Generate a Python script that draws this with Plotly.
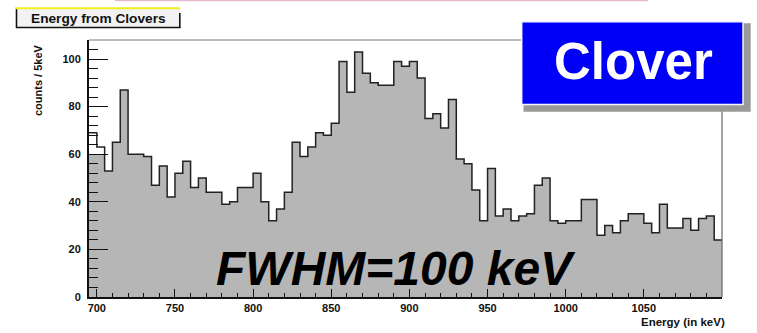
import plotly.graph_objects as go

# ---- data (5 keV bins starting at 695 keV) ----
bin_start = 695
bin_width = 5
counts = [69, 63, 53, 65, 87, 60, 60, 59, 47, 55,
          42, 52, 57, 46, 50, 44, 44, 39, 40, 46,
          46, 52, 40, 32, 37, 44, 65, 59, 63, 69,
          68, 73, 99, 86, 103, 94, 90, 89, 89, 99,
          97, 99, 92, 75, 77, 71, 83, 58, 56, 45,
          32, 54, 34, 37, 32, 34, 35, 47, 50, 32,
          31, 32, 32, 41, 41, 26, 30, 27, 32, 35,
          35, 31, 27, 39, 29, 29, 33, 28, 33, 34, 24]
# the grey fill of the first two bins stops lower than their outline in the picture
fill_first_bins = [60, 60]
x_range = [695, 1100]
y_range = [0, 108]
x_tick_vals = [700, 750, 800, 850, 900, 950, 1000, 1050]
y_tick_vals = [0, 20, 40, 60, 80, 100]
title_text = "Energy from Clovers"
y_title = "counts / 5keV"
x_title = "Energy (in keV)"
box_text = "Clover"
note_text = "FWHM=100 keV"

edges = [bin_start + i * bin_width for i in range(len(counts) + 1)]
step_y = counts + [counts[-1]]
fill_vals = fill_first_bins + counts[len(fill_first_bins):]
fill_y = fill_vals + [fill_vals[-1]]

W, H = 757, 333
L, R, T, B = 89, 35, 40, 36
PW, PH = W - L - R, H - T - B


def px(x):
    return (x - L) / PW


def py(y):
    return (H - B - y) / PH


fig = go.Figure()
fig.add_trace(go.Scatter(x=edges, y=fill_y, mode="lines", line=dict(width=0, shape="hv"),
                         fill="tozeroy", fillcolor="#b6b6b6", hoverinfo="skip", showlegend=False))
fig.add_trace(go.Scatter(x=edges, y=step_y, mode="lines",
                         line=dict(color="#222222", width=1.5, shape="hv"),
                         hoverinfo="skip", showlegend=False))

tickfont = dict(family="Liberation Sans", size=11, color="#111111", weight="bold")
fig.update_xaxes(range=x_range, showline=True, linecolor="#111111", linewidth=2,
                 ticks="inside", ticklen=8, tickwidth=1.2, tickcolor="#111111",
                 tickmode="array", tickvals=x_tick_vals, showgrid=False, zeroline=False, tickfont=tickfont,
                 minor=dict(ticks="inside", dtick=10, tick0=700, ticklen=4, tickcolor="#111111", showgrid=False))
fig.update_yaxes(range=y_range, showline=True, linecolor="#111111", linewidth=2,
                 ticks="inside", ticklen=19, tickwidth=1.2, tickcolor="#111111",
                 tickmode="array", tickvals=y_tick_vals, showgrid=False, zeroline=False, tickfont=tickfont,
                 ticklabelstandoff=4,
                 minor=dict(ticks="inside", dtick=4, tick0=0, ticklen=9, tickcolor="#111111", showgrid=False))

shapes = []
# frame top and right (thin grey)
shapes.append(dict(type="line", xref="paper", yref="paper", x0=0, x1=1, y0=1, y1=1,
                   line=dict(color="#777777", width=1)))
shapes.append(dict(type="line", xref="paper", yref="paper", x0=1, x1=1, y0=0, y1=1,
                   line=dict(color="#666666", width=1.2)))
# pink slide line at very top
shapes.append(dict(type="line", xref="paper", yref="paper", x0=px(115), x1=px(648), y0=py(0.6), y1=py(0.6),
                   line=dict(color="#e6b8cc", width=1.5)))
# title box
shapes.append(dict(type="rect", xref="paper", yref="paper", x0=px(16), x1=px(180), y0=py(27), y1=py(9),
                   fillcolor="#f2f2f2", line=dict(width=0), layer="above"))
shapes.append(dict(type="line", xref="paper", yref="paper", x0=px(16.5), x1=px(16.5), y0=py(28), y1=py(9),
                   line=dict(color="#111111", width=1.6), layer="above"))
shapes.append(dict(type="line", xref="paper", yref="paper", x0=px(16), x1=px(180.5), y0=py(27.5), y1=py(27.5),
                   line=dict(color="#111111", width=1.6), layer="above"))
shapes.append(dict(type="line", xref="paper", yref="paper", x0=px(179.8), x1=px(179.8), y0=py(28), y1=py(13),
                   line=dict(color="#111111", width=1.6), layer="above"))
shapes.append(dict(type="line", xref="paper", yref="paper", x0=px(15), x1=px(180), y0=py(8.3), y1=py(8.3),
                   line=dict(color="#f2ee20", width=2), layer="above"))
# Clover box with shadow
shapes.append(dict(type="rect", xref="paper", yref="paper", x0=px(523.5), x1=px(750.7), y0=py(111.7), y1=py(23.3),
                   fillcolor="#999999", line=dict(width=0), layer="above"))
shapes.append(dict(type="rect", xref="paper", yref="paper", x0=px(521.7), x1=px(743), y0=py(104.5), y1=py(21.7),
                   fillcolor="#0000f8", line=dict(color="#f4f4ff", width=1.5), layer="above"))

annotations = [
    dict(text=title_text, xref="paper", yref="paper", x=px(98), y=py(18), showarrow=False,
         xanchor="center", yanchor="middle",
         font=dict(family="Liberation Sans", size=13.7, color="#111111", weight="bold")),
    dict(text=y_title, xref="paper", yref="paper", x=px(38), y=py(42), showarrow=False,
         textangle=-90, xanchor="center", yanchor="top",
         font=dict(family="Liberation Sans", size=11, color="#111111", weight="bold")),
    dict(text=x_title, xref="paper", yref="paper", x=px(727), y=py(322), showarrow=False,
         xanchor="right", yanchor="middle",
         font=dict(family="Liberation Sans", size=11.5, color="#111111", weight="bold")),
    dict(text=box_text, xref="paper", yref="paper", x=px(633), y=py(61), showarrow=False,
         xanchor="center", yanchor="middle",
         font=dict(family="Liberation Sans", size=51, color="#ffffff", weight="bold")),
    dict(text="<i>" + note_text + "</i>", xref="paper", yref="paper", x=px(214), y=py(268), showarrow=False,
         xanchor="left", yanchor="middle",
         font=dict(family="Liberation Sans", size=48, color="#000000", weight="bold")),
]

fig.update_layout(width=W, height=H, margin=dict(l=L, r=R, t=T, b=B),
                  paper_bgcolor="white", plot_bgcolor="white",
                  shapes=shapes, annotations=annotations, showlegend=False)

fig.write_html("out.html", config={"displayModeBar": False})
